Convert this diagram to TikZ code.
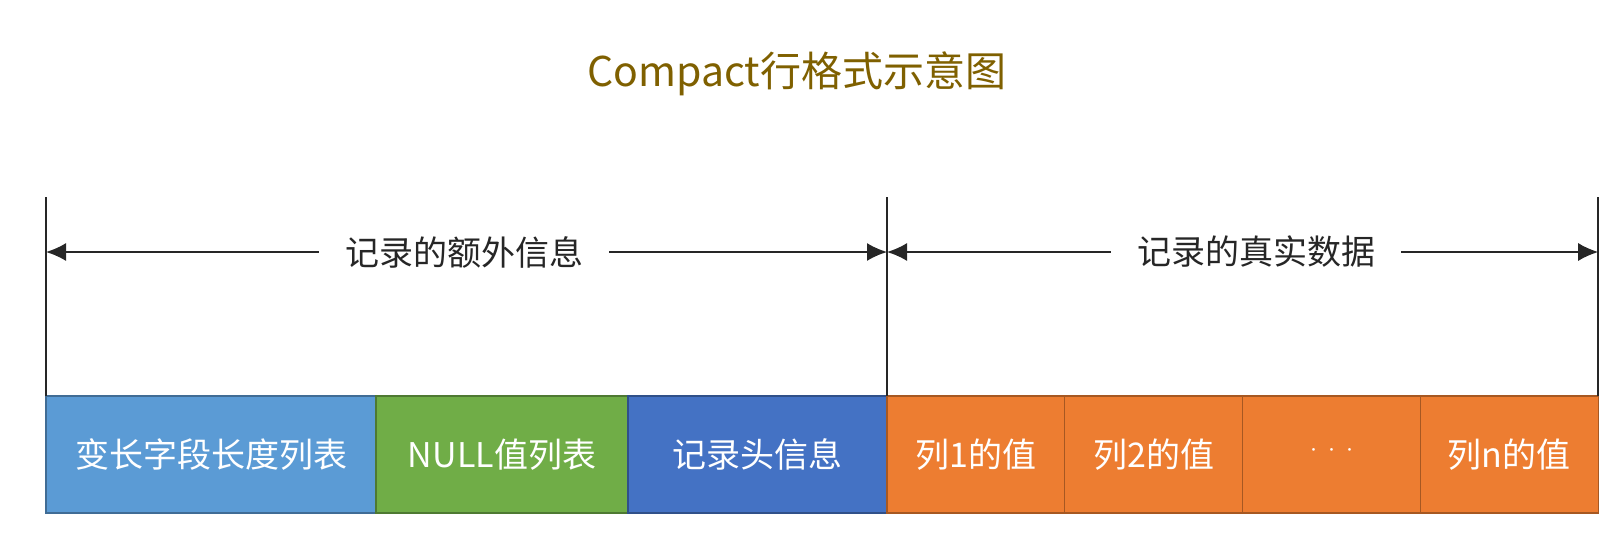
\documentclass[tikz,border=0pt]{standalone}
\usepackage{fontspec}
\newfontfamily\cjk{Noto Sans CJK SC}
\usepackage{xcolor}
\usetikzlibrary{arrows.meta,positioning}
\definecolor{titlegold}{RGB}{127,96,0}
\definecolor{varblue}{RGB}{91,155,213}
\definecolor{nullgreen}{RGB}{112,173,71}
\definecolor{hdrblue}{RGB}{68,114,196}
\definecolor{colorange}{RGB}{237,125,49}
\newcommand{\celldot}{\makebox[9pt]{\textperiodcentered}}

\begin{document}
\begin{tikzpicture}[x=0.5pt, y=0.5pt,
  node distance=0pt,
  cell/.style={draw=#1!70!black, fill=#1, line width=0.6pt, inner sep=0pt, outer sep=0pt,
               minimum height=58.5pt, text=white, font={\cjk\fontsize{17}{20}\selectfont}},
  ocell/.style={cell=colorange, minimum width=88.9pt},
  lbl/.style={inner xsep=13pt, text=black!85, font={\cjk\fontsize{17}{20}\selectfont}},
  edge/.style={line width=0.8pt, black!85},
  ar/.style={-{Latex[length=10pt,width=9pt]}, line width=0.8pt, black!85}]
\useasboundingbox (0,0) rectangle (1622,538);
\node[text=titlegold, font={\cjk\fontsize{20.5}{24}\selectfont}] (title) at (797,464) {Compact行格式示意图};
\node[cell=varblue, minimum width=165pt, anchor=south west] (varlen) at (46,25) {变长字段长度列表};
\node[cell=nullgreen, minimum width=126pt, right=of varlen] (nulls) {NULL值列表};
\node[cell=hdrblue, minimum width=129.5pt, right=of nulls] (hdr) {记录头信息};
\node[ocell, right=of hdr] (col1) {列1的值};
\node[ocell, right=of col1] (col2) {列2的值};
\node[ocell, right=of col2] (dots) {\normalfont\celldot\celldot\celldot};
\node[ocell, right=of dots] (coln) {列n的值};
\coordinate[above=99.5pt of varlen.north west] (ltop);
\coordinate[above=99.5pt of hdr.north east] (mtop);
\coordinate[above=99.5pt of coln.north east] (rtop);
\draw[edge] (varlen.north west) -- (ltop);
\draw[edge] (hdr.north east) -- (mtop);
\draw[edge] (coln.north east) -- (rtop);
\node[lbl] (extra) at (464,286) {记录的额外信息};
\node[lbl] (real) at (1256,286) {记录的真实数据};
\draw[ar] (extra.west) -- (extra.west -| ltop);
\draw[ar] (extra.east) -- (extra.east -| mtop);
\draw[ar] (real.west) -- (real.west -| mtop);
\draw[ar] (real.east) -- (real.east -| rtop);
\end{tikzpicture}
\end{document}
